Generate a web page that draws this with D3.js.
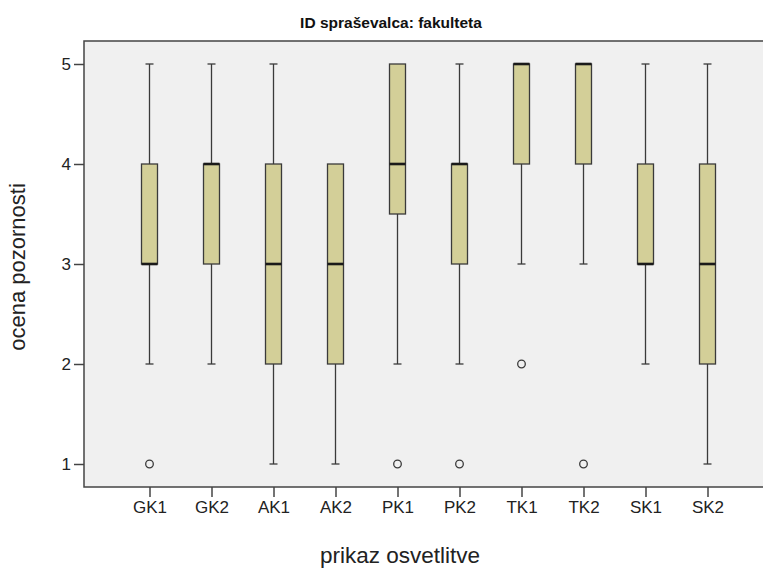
<!DOCTYPE html>
<html><head><meta charset="utf-8">
<script src="https://cdnjs.cloudflare.com/ajax/libs/d3/7.8.5/d3.min.js"></script>
<style>body{margin:0;background:#fff}svg{display:block}</style>
</head><body>
<script>
const categories = ["GK1","GK2","AK1","AK2","PK1","PK2","TK1","TK2","SK1","SK2"];
const whiskerLow  = [2,2,1,1,2,2,3,3,2,1];
const q1          = [3,3,2,2,3.5,3,4,4,3,2];
const medians     = [3,4,3,3,4,4,5,5,3,3];
const q3          = [4,4,4,4,5,4,5,5,4,4];
const whiskerHigh = [5,5,5,4,5,5,5,5,5,5];
const outliers    = [[1],[],[],[],[1],[1],[2],[1],[],[]];
const yTicks = [1,2,3,4,5];

const W = 763, H = 572;
const pLeft = 84, pTop = 41, pBottom = 487, pRight = 775;
const svg = d3.select("body").append("svg").attr("width", W).attr("height", H);

const x = d3.scalePoint().domain(categories).range([149.5, 707.5]);
const y = d3.scaleLinear().domain([1,5]).range([464, 64]);

svg.append("rect").attr("x", pLeft).attr("y", pTop).attr("width", pRight-pLeft).attr("height", pBottom-pTop)
  .attr("fill", "#f0f0f0");

const stroke = "#3a3a3a";
const bw = 16, cap = 8;
const g = svg.append("g");
categories.forEach((c, i) => {
  const cx = x(c);
  if (whiskerHigh[i] > q3[i]) {
    g.append("line").attr("x1", cx).attr("x2", cx).attr("y1", y(whiskerHigh[i])).attr("y2", y(q3[i])).attr("stroke", stroke).attr("stroke-width", 1.3);
    g.append("line").attr("x1", cx-cap/2).attr("x2", cx+cap/2).attr("y1", y(whiskerHigh[i])).attr("y2", y(whiskerHigh[i])).attr("stroke", stroke).attr("stroke-width", 1.3);
  }
  if (whiskerLow[i] < q1[i]) {
    g.append("line").attr("x1", cx).attr("x2", cx).attr("y1", y(q1[i])).attr("y2", y(whiskerLow[i])).attr("stroke", stroke).attr("stroke-width", 1.3);
    g.append("line").attr("x1", cx-cap/2).attr("x2", cx+cap/2).attr("y1", y(whiskerLow[i])).attr("y2", y(whiskerLow[i])).attr("stroke", stroke).attr("stroke-width", 1.3);
  }
  g.append("rect").attr("x", cx-bw/2).attr("y", y(q3[i])).attr("width", bw).attr("height", y(q1[i])-y(q3[i]))
    .attr("fill", "#d3cf98").attr("stroke", stroke).attr("stroke-width", 1.3);
  g.append("line").attr("x1", cx-bw/2).attr("x2", cx+bw/2).attr("y1", y(medians[i])).attr("y2", y(medians[i]))
    .attr("stroke", "#1a1a1a").attr("stroke-width", 2.6);
  outliers[i].forEach(o => {
    g.append("circle").attr("cx", cx).attr("cy", y(o)).attr("r", 3.8).attr("fill", "none").attr("stroke", stroke).attr("stroke-width", 1.3);
  });
});

svg.append("path").attr("d", `M${pRight},${pTop}H${pLeft}V${pBottom}H${pRight}`).attr("fill","none").attr("stroke","#444").attr("stroke-width",1.5);

const yAxis = svg.append("g").attr("transform", `translate(${pLeft},0)`)
  .call(d3.axisLeft(y).tickValues(yTicks).tickFormat(d3.format("d")).tickSize(10).tickPadding(3));
yAxis.select(".domain").remove();
yAxis.selectAll("line").attr("stroke", "#444").attr("stroke-width", 1.5);
yAxis.selectAll("text").attr("font-family", "Liberation Sans, Arial, sans-serif").attr("font-size", 17).attr("fill", "#222");

const xAxis = svg.append("g").attr("transform", `translate(0,${pBottom})`)
  .call(d3.axisBottom(x).tickSize(10).tickPadding(4));
xAxis.select(".domain").remove();
xAxis.selectAll("line").attr("stroke", "#444").attr("stroke-width", 1.5);
xAxis.selectAll("text").attr("font-family", "Liberation Sans, Arial, sans-serif").attr("font-size", 17).attr("fill", "#222");

svg.append("text").attr("x", 391).attr("y", 28).attr("text-anchor", "middle")
  .attr("font-family", "Liberation Sans, Arial, sans-serif").attr("font-weight", "bold").attr("font-size", 15.5).attr("fill", "#111")
  .text("ID spraševalca: fakulteta");
svg.append("text").attr("x", 400).attr("y", 563).attr("text-anchor", "middle")
  .attr("font-family", "Liberation Sans, Arial, sans-serif").attr("font-size", 22.5).attr("fill", "#222")
  .text("prikaz osvetlitve");
svg.append("text").attr("transform", "translate(25,267) rotate(-90)").attr("text-anchor", "middle")
  .attr("font-family", "Liberation Sans, Arial, sans-serif").attr("font-size", 22).attr("fill", "#222")
  .text("ocena pozornosti");
</script>
</body></html>
